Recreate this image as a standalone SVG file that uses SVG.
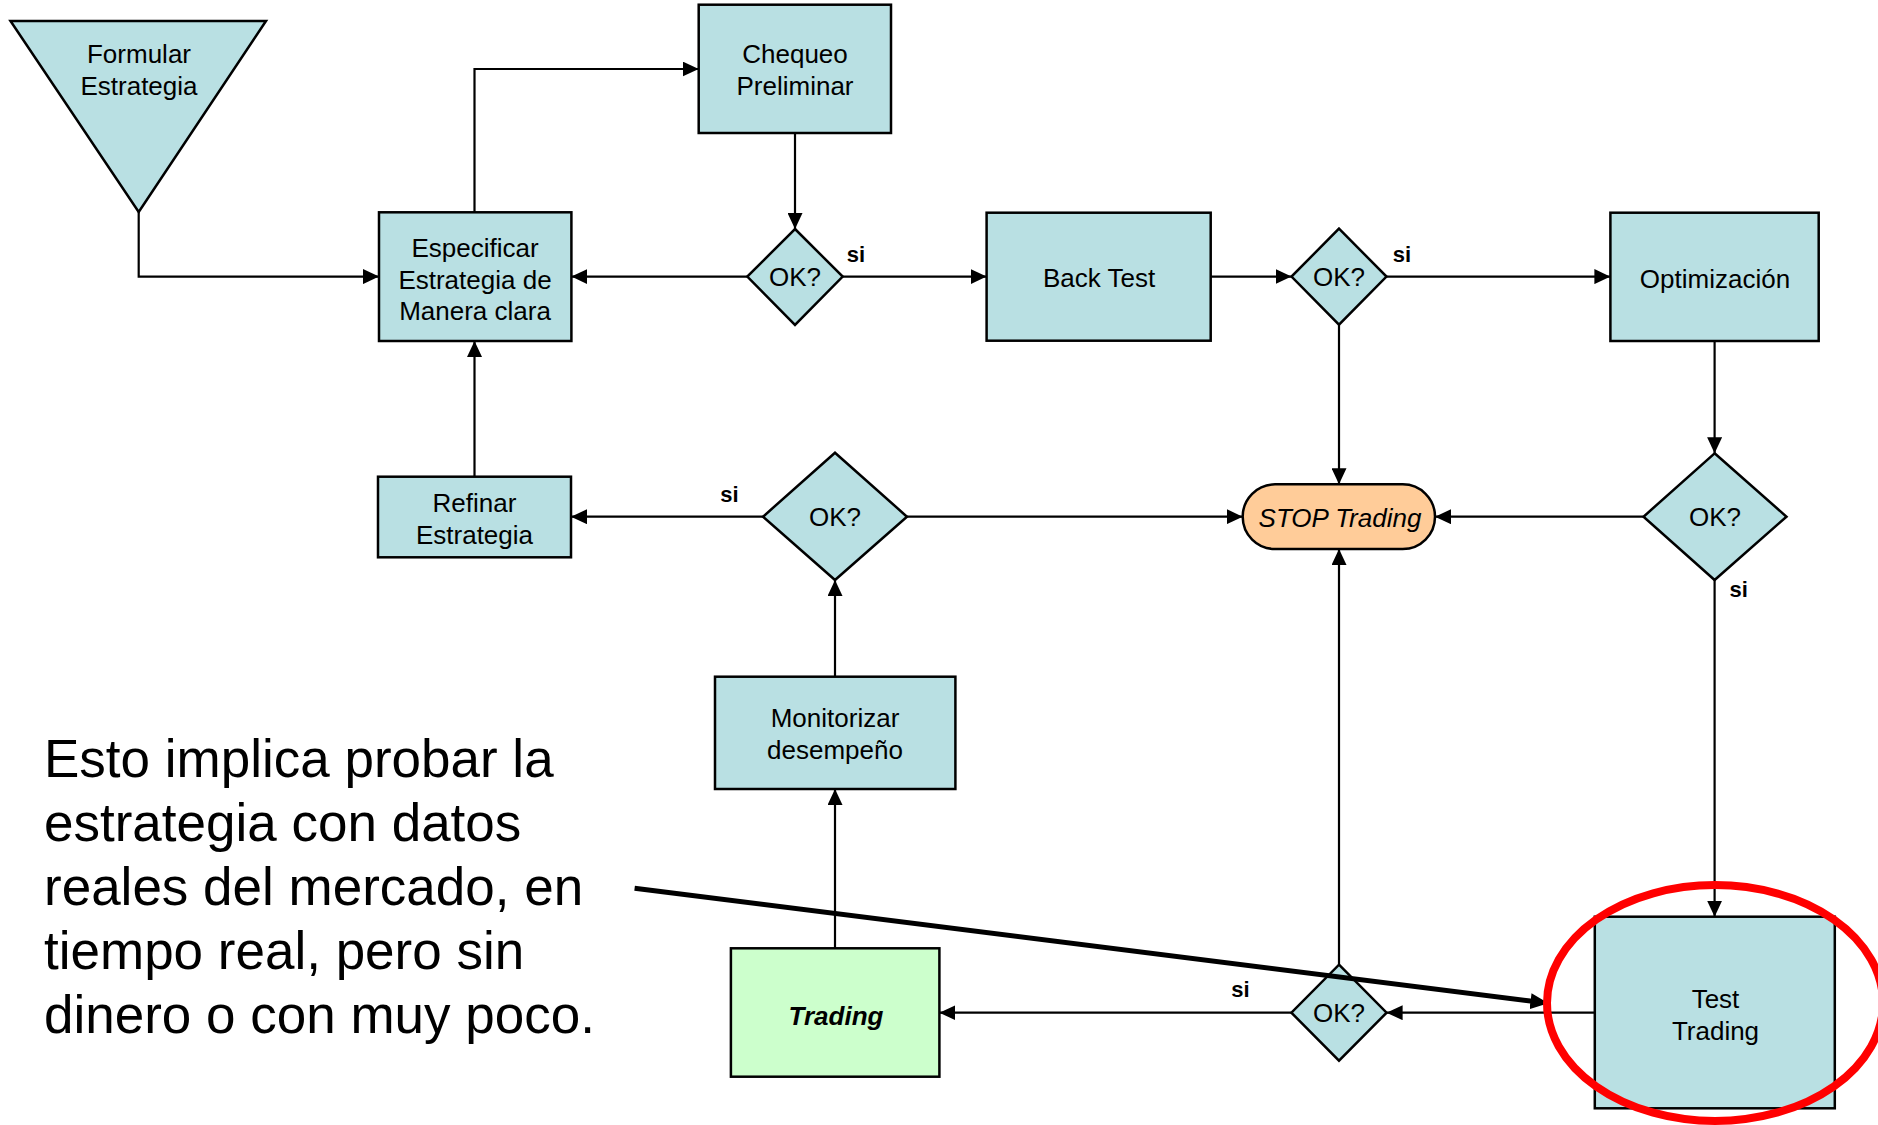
<svg xmlns="http://www.w3.org/2000/svg" width="1878" height="1125" viewBox="0 0 1878 1125">
<style>
.box{fill:#B9E0E3;stroke:#000;stroke-width:2.5}
.t{font-family:"Liberation Sans",Arial,sans-serif;font-size:26px;fill:#000;text-anchor:middle}
.si{font-family:"Liberation Sans",Arial,sans-serif;font-size:22px;font-weight:bold;fill:#000;text-anchor:middle}
.c{fill:none;stroke:#000;stroke-width:2.2;marker-end:url(#ah)}
.big{font-family:"Liberation Sans",Arial,sans-serif;font-size:53px;fill:#000}
</style>
<defs>
<marker id="ah" markerUnits="userSpaceOnUse" markerWidth="16" markerHeight="15" refX="16" refY="7.5" orient="auto">
<path d="M0,0 L16,7.5 L0,15 z" fill="#000"/>
</marker>
<marker id="ah2" markerUnits="userSpaceOnUse" markerWidth="18" markerHeight="16" refX="4" refY="8" orient="auto">
<path d="M0,0 L18,8 L0,16 z" fill="#000"/>
</marker>
</defs>
<rect width="1878" height="1125" fill="#fff"/>

<g id="connectors">
<path class="c" d="M138.7,212 V276.6 H379"/>
<path class="c" d="M474.5,212.3 V69 H698.7"/>
<path class="c" d="M795,133 V229"/>
<path class="c" d="M747.3,276.6 H571.4"/>
<path class="c" d="M842.7,276.6 H986.6"/>
<path class="c" d="M1210.7,276.6 H1291.5"/>
<path class="c" d="M1386.5,276.6 H1610.4"/>
<path class="c" d="M1339,324.6 V484.3"/>
<path class="c" d="M1714.6,341 V453.3"/>
<path class="c" d="M1643.5,516.7 H1435"/>
<path class="c" d="M1714.6,580 V916.7"/>
<path class="c" d="M1594.8,1012.7 H1386.6"/>
<path class="c" d="M1339,964.7 V549"/>
<path class="c" d="M1291.4,1012.7 H939.4"/>
<path class="c" d="M835,948.3 V789"/>
<path class="c" d="M835,676.7 V580"/>
<path class="c" d="M763,516.7 H571"/>
<path class="c" d="M907,516.7 H1242.7"/>
<path class="c" d="M474.5,476.7 V341"/>
</g>

<g id="formular">
<polygon class="box" points="10.5,21 266,21 138.7,212"/>
<text class="t" x="139" y="63">Formular</text>
<text class="t" x="139" y="95">Estrategia</text>
</g>

<g id="especificar">
<rect class="box" x="379" y="212.3" width="192.4" height="128.7"/>
<text class="t" x="475" y="257">Especificar</text>
<text class="t" x="475" y="288.5">Estrategia de</text>
<text class="t" x="475" y="320">Manera clara</text>
</g>

<g id="chequeo">
<rect class="box" x="698.7" y="4.7" width="192.3" height="128.3"/>
<text class="t" x="795" y="63">Chequeo</text>
<text class="t" x="795" y="95">Preliminar</text>
</g>

<g id="ok1">
<polygon class="box" points="795,229 842.7,276.6 795,325 747.3,276.6"/>
<text class="t" x="795" y="286">OK?</text>
</g>

<g id="backtest">
<rect class="box" x="986.6" y="212.7" width="224.1" height="128"/>
<text class="t" x="1099" y="287">Back Test</text>
</g>

<g id="ok2">
<polygon class="box" points="1339,228.6 1386.5,276.6 1339,324.6 1291.5,276.6"/>
<text class="t" x="1339" y="286">OK?</text>
</g>

<g id="optimizacion">
<rect class="box" x="1610.4" y="212.7" width="208.3" height="128.3"/>
<text class="t" x="1715" y="288">Optimización</text>
</g>

<g id="ok3">
<polygon class="box" points="1714.6,453.3 1786.5,516.7 1714.6,580 1643.5,516.7"/>
<text class="t" x="1715" y="526">OK?</text>
</g>

<g id="stop">
<rect x="1242.7" y="484.3" width="192.3" height="64.7" rx="32.3" ry="32.3" fill="#FFCC99" stroke="#000" stroke-width="2.5"/>
<text class="t" x="1340" y="526.5" font-style="italic" font-size="25">STOP Trading</text>
</g>

<g id="refinar">
<rect class="box" x="378" y="476.7" width="193" height="80.6"/>
<text class="t" x="474.5" y="511.5">Refinar</text>
<text class="t" x="474.5" y="544">Estrategia</text>
</g>

<g id="ok4">
<polygon class="box" points="835,452.7 907,516.7 835,580 763,516.7"/>
<text class="t" x="835" y="526">OK?</text>
</g>

<g id="monitorizar">
<rect class="box" x="715" y="676.7" width="240.4" height="112.3"/>
<text class="t" x="835" y="727">Monitorizar</text>
<text class="t" x="835" y="759">desempeño</text>
</g>

<g id="trading">
<rect x="730.9" y="948.3" width="208.5" height="128.4" fill="#CCFFCC" stroke="#000" stroke-width="2.5"/>
<text class="t" x="836" y="1025" font-style="italic" font-weight="bold">Trading</text>
</g>

<g id="ok5">
<polygon class="box" points="1339,964.7 1386.6,1012.7 1339,1060.7 1291.4,1012.7"/>
<text class="t" x="1339" y="1022">OK?</text>
</g>

<g id="testtrading">
<rect class="box" x="1594.8" y="916.7" width="240" height="191.6"/>
<text class="t" x="1715.5" y="1008">Test</text>
<text class="t" x="1715.5" y="1040">Trading</text>
</g>

<g id="labels">
<text class="si" x="856" y="262">si</text>
<text class="si" x="1402" y="262">si</text>
<text class="si" x="729.5" y="502">si</text>
<text class="si" x="1738.6" y="597">si</text>
<text class="si" x="1240.5" y="997">si</text>
</g>

<g id="callout">
<text class="big" x="44" y="777">Esto implica probar la</text>
<text class="big" x="44" y="841">estrategia con datos</text>
<text class="big" x="44" y="905">reales del mercado, en</text>
<text class="big" x="44" y="969">tiempo real, pero sin</text>
<text class="big" x="44" y="1033">dinero o con muy poco.</text>
<line x1="634.6" y1="888.3" x2="1534.5" y2="1001.6" stroke="#000" stroke-width="5" marker-end="url(#ah2)"/>
<ellipse cx="1715" cy="1003" rx="168" ry="118" fill="none" stroke="#FF0000" stroke-width="8"/>
</g>
</svg>
